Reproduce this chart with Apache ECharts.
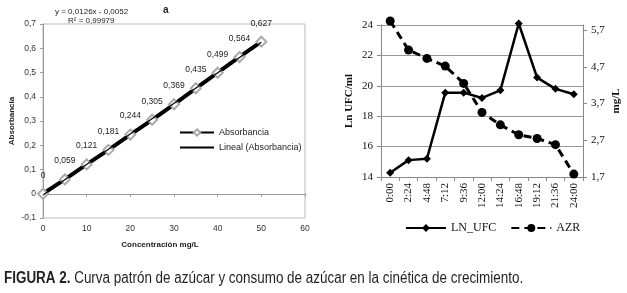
<!DOCTYPE html>
<html>
<head>
<meta charset="utf-8">
<script src="https://cdn.jsdelivr.net/npm/echarts@6/dist/echarts.min.js"></script>
<style>
  html, body { margin: 0; padding: 0; background: #fff; }
  #chart { width: 627px; height: 293px; }
</style>
</head>
<body>
<div id="chart"></div>
<script>
// curva patron (a)
var concentracion = [0, 5, 10, 15, 20, 25, 30, 35, 40, 45, 50];
var absorbancia = [0, 0.059, 0.121, 0.181, 0.244, 0.305, 0.369, 0.435, 0.499, 0.564, 0.627];
var trendSlope = 0.0126;
var trendIntercept = -0.0052;

// cinetica de crecimiento
var horas = ['0:00', '2:24', '4:48', '7:12', '9:36', '12:00', '14:24', '16:48', '19:12', '21:36', '24:00'];
var lnUfc = [14.28, 15.11, 15.2, 19.55, 19.55, 19.2, 19.7, 24.1, 20.54, 19.8, 19.44];
var azr = [5.95, 5.16, 4.93, 4.72, 4.25, 3.46, 3.12, 2.85, 2.75, 2.58, 1.78];

function coma(v, dec) {
    return String(v.toFixed(dec)).replace('.', ',');
}

var trend = [concentracion[0], concentracion[concentracion.length - 1]].map(function (x) {
    return [x, trendSlope * x + trendIntercept];
});

var sans = 'Liberation Sans, Arial, sans-serif';
var serif = 'Liberation Serif, Times New Roman, serif';

var chart = echarts.init(document.getElementById('chart'));
chart.setOption({
    animation: false,
    backgroundColor: '#fff',
    graphic: [
        {
            type: 'text', left: 163, top: 5,
            style: { text: 'a', font: 'bold 10px ' + sans, fill: '#222' }
        },
        {
            type: 'text', left: 55, top: 8,
            style: { text: 'y = 0,0126x - 0,0052', font: '8px ' + sans, fill: '#222' }
        },
        {
            type: 'text', left: 68, top: 17,
            style: { text: 'R² = 0,99979', font: '8px ' + sans, fill: '#222' }
        },
        {
            type: 'text', x: 4, y: 271, scaleX: 0.84,
            style: {
                text: '{b|FIGURA 2.} Curva patrón de azúcar y consumo de azúcar en la cinética de crecimiento.',
                rich: {
                    b: { fontFamily: 'Liberation Sans', fontWeight: 'bold', fontSize: 16, fill: '#231f20' }
                },
                fontFamily: 'Liberation Sans',
                fontSize: 16,
                fill: '#231f20'
            }
        }
    ],
    legend: [
        {
            orient: 'vertical',
            left: 174, top: 123,
            itemWidth: 34, itemHeight: 8, itemGap: 6,
            textStyle: { fontFamily: sans, fontSize: 9, color: '#222' },
            data: ['Absorbancia', 'Lineal (Absorbancia)']
        },
        {
            left: 400, top: 217,
            itemWidth: 40, itemHeight: 10, itemGap: 14,
            textStyle: { fontFamily: serif, fontSize: 12, color: '#111' },
            data: ['LN_UFC', 'AZR']
        }
    ],
    grid: [
        { left: 43, right: 322, top: 24, height: 194, show: true, borderColor: '#bbb', borderWidth: 1 },
        { left: 381, right: 44, top: 25, height: 152 }
    ],
    xAxis: [
        {
            gridIndex: 0, type: 'value', min: 0, max: 60, interval: 10,
            name: 'Concentración mg/L', nameLocation: 'middle', nameGap: 23,
            nameTextStyle: { fontFamily: sans, fontSize: 8, fontWeight: 'bold', color: '#222', padding: [0, 0, 0, -28] },
            axisLine: { onZero: true, lineStyle: { color: '#999' } },
            axisTick: { show: true, length: 3, lineStyle: { color: '#999' } },
            axisLabel: { fontFamily: sans, fontSize: 8.5, color: '#333', margin: 6 },
            splitLine: { show: false }
        },
        {
            gridIndex: 1, type: 'category', data: horas, boundaryGap: true,
            axisLine: { lineStyle: { color: '#888' } },
            axisTick: { show: true, length: 4, lineStyle: { color: '#888' } },
            axisLabel: { rotate: 90, fontFamily: serif, fontSize: 11, color: '#111', margin: 6, interval: 0 }
        }
    ],
    yAxis: [
        {
            gridIndex: 0, type: 'value', min: -0.1, max: 0.7, interval: 0.1,
            name: 'Absorbancia', nameLocation: 'middle', nameGap: 27,
            nameTextStyle: { fontFamily: sans, fontSize: 8, fontWeight: 'bold', color: '#222' },
            axisLine: { show: true, lineStyle: { color: '#999' } },
            axisTick: { show: true, length: 3, lineStyle: { color: '#999' } },
            axisLabel: {
                fontFamily: sans, fontSize: 8.5, color: '#333', margin: 7,
                formatter: function (v) { return v === 0 ? '0' : coma(v, 1); }
            },
            splitLine: { show: false }
        },
        {
            gridIndex: 1, type: 'value', min: 14, max: 24, interval: 2,
            name: 'Ln UFC/ml', nameLocation: 'middle', nameGap: 26,
            nameTextStyle: { fontFamily: serif, fontSize: 11, fontWeight: 'bold', color: '#111' },
            axisLine: { show: true, lineStyle: { color: '#888' } },
            axisTick: { show: true, length: 4, lineStyle: { color: '#888' } },
            axisLabel: { fontFamily: serif, fontSize: 11, color: '#111', margin: 8 },
            splitLine: { show: true, lineStyle: { color: '#999', width: 1 } }
        },
        {
            gridIndex: 1, type: 'value', position: 'right', min: 1.7, max: 5.84, interval: 1,
            name: 'mg/L', nameLocation: 'middle', nameGap: 28,
            nameTextStyle: { fontFamily: serif, fontSize: 11, fontWeight: 'bold', color: '#111' },
            axisLine: { show: true, lineStyle: { color: '#888' } },
            axisTick: { show: true, length: 4, lineStyle: { color: '#888' } },
            axisLabel: {
                fontFamily: serif, fontSize: 11, color: '#111', margin: 8, showMaxLabel: false,
                formatter: function (v) { return coma(v, 1); }
            },
            splitLine: { show: false }
        }
    ],
    series: [
        {
            name: 'Absorbancia', type: 'line', xAxisIndex: 0, yAxisIndex: 0,
            data: concentracion.map(function (x, i) { return [x, absorbancia[i]]; }),
            lineStyle: { color: '#000', width: 4 },
            itemStyle: { color: '#fff', borderColor: '#aaa', borderWidth: 2 },
            symbol: 'diamond', symbolSize: 10, showAllSymbol: true,
            label: {
                show: true, position: 'top', distance: 8,
                fontFamily: sans, fontSize: 8.5, color: '#222',
                formatter: function (p) { return p.value[1] === 0 ? '0' : coma(p.value[1], 3); }
            },
            z: 3
        },
        {
            name: 'Lineal (Absorbancia)', type: 'line', xAxisIndex: 0, yAxisIndex: 0,
            data: trend, symbol: 'none',
            lineStyle: { color: '#000', width: 1.2 },
            itemStyle: { color: '#000', opacity: 0 },
            z: 4
        },
        {
            name: 'LN_UFC', type: 'line', xAxisIndex: 1, yAxisIndex: 1,
            data: lnUfc, symbol: 'diamond', symbolSize: 8,
            lineStyle: { color: '#000', width: 2.5 },
            itemStyle: { color: '#000' },
            clip: false
        },
        {
            name: 'AZR', type: 'line', xAxisIndex: 1, yAxisIndex: 2,
            data: azr, symbol: 'circle', symbolSize: 9,
            lineStyle: { color: '#000', width: 3, type: [8, 5] },
            itemStyle: { color: '#000' },
            clip: false
        }
    ]
});
</script>
</body>
</html>
